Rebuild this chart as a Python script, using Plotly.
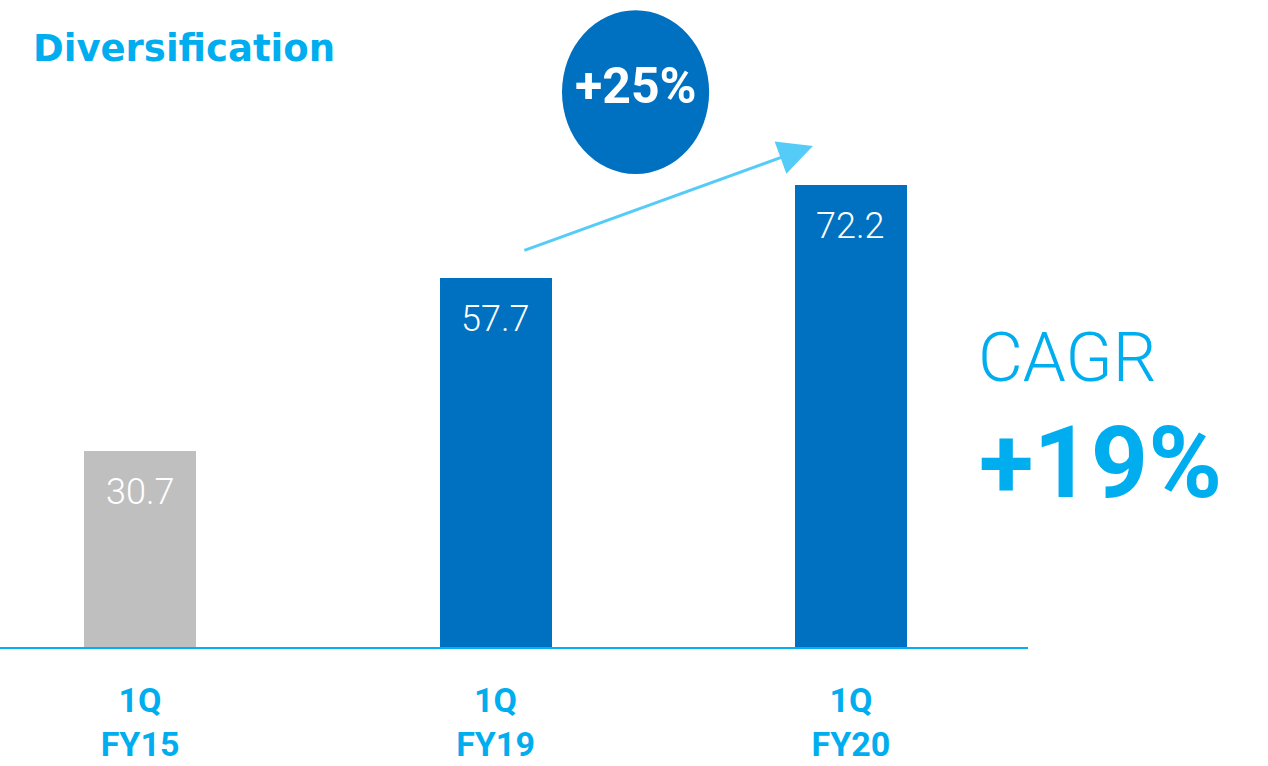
import plotly.graph_objects as go

# Data
categories = ["1Q<br>FY15", "1Q<br>FY19", "1Q<br>FY20"]
values = [30.7, 57.7, 72.2]
bar_colors = ["#BFBFBF", "#0070C0", "#0070C0"]
growth_label = "+25%"
cagr_label = "+19%"
title_text = "Diversification"

CYAN = "#00AEEF"
ARROW = "#55CCF7"
FONT = "Roboto, 'Open Sans', sans-serif"

x_idx = list(range(len(categories)))

fig = go.Figure()
fig.add_trace(go.Bar(
    x=x_idx,
    y=values,
    width=0.315,
    marker=dict(color=bar_colors, line=dict(width=0)),
    hoverinfo="skip",
))

# value labels inside the bar tops
for xi, v in zip(x_idx, values):
    fig.add_annotation(
        x=xi, y=v, xref="x", yref="y",
        text=f"{v:.1f}", showarrow=False,
        yanchor="middle", yshift=-41,
        font=dict(family=FONT, size=36, color="white", weight=300),
    )

# growth bubble
fig.add_shape(
    type="circle", xref="x", yref="y",
    x0=1.187, x1=1.601, y0=73.9, y1=99.5,
    fillcolor="#0070C0", line=dict(width=0), layer="above",
)
fig.add_annotation(
    x=1.394, y=87.6, xref="x", yref="y",
    text=growth_label, showarrow=False,
    font=dict(family=FONT, size=50, color="white", weight=700),
)

# growth arrow from FY19 towards FY20
fig.add_annotation(
    x=1.893, y=78.3, xref="x", yref="y",
    ax=1.077, ay=61.9, axref="x", ayref="y",
    text="", showarrow=True,
    arrowhead=2, arrowsize=2.3, arrowwidth=3, arrowcolor=ARROW,
)

# title
fig.add_annotation(
    x=38 / 1268, y=1 - 57 / 766, xref="paper", yref="paper",
    text=title_text, showarrow=False, xanchor="left", yanchor="middle",
    font=dict(family="'DejaVu Sans', sans-serif", size=37, color=CYAN, weight=700),
)

# CAGR side labels
fig.add_annotation(
    x=976 / 1028, y=(647 - 357) / 647, xref="paper", yref="paper",
    text="CAGR", showarrow=False, xanchor="left", yanchor="middle",
    font=dict(family=FONT, size=69, color=CYAN, weight=300),
)
fig.add_annotation(
    x=977 / 1028, y=(647 - 462) / 647, xref="paper", yref="paper",
    text=cagr_label, showarrow=False, xanchor="left", yanchor="middle",
    font=dict(family=FONT, size=100, color=CYAN, weight=700),
)

fig.update_layout(
    width=1268, height=766,
    margin=dict(l=0, r=240, t=0, b=119),
    plot_bgcolor="white", paper_bgcolor="white",
    showlegend=False,
    bargap=0,
)
fig.update_xaxes(
    range=[-0.394, 2.498],
    tickmode="array", tickvals=x_idx, ticktext=categories,
    tickfont=dict(family=FONT, size=34, color=CYAN, weight=700),
    showline=True, linecolor="#00B0F0", linewidth=2,
    showgrid=False, zeroline=False,
    ticks="outside", ticklen=22, tickcolor="rgba(0,0,0,0)",
)
fig.update_yaxes(
    range=[0, 647 / 6.4],
    visible=False, showgrid=False, zeroline=False,
)

fig.write_html("out.html")
